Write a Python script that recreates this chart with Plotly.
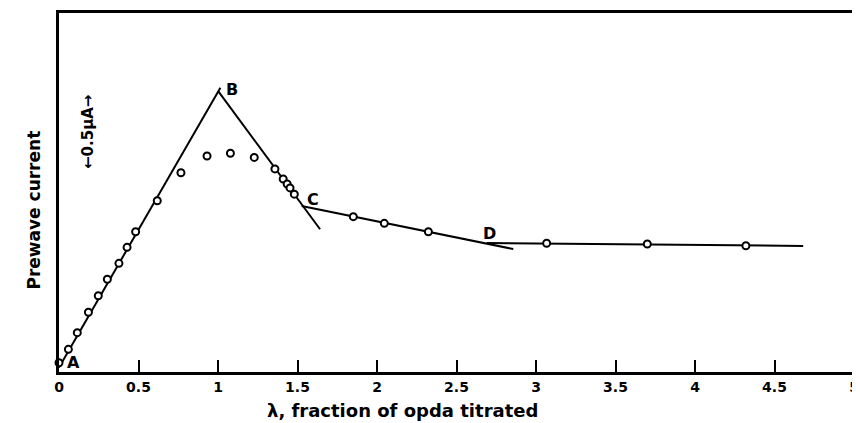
import plotly.graph_objects as go

# Measured points (x: fraction of opda titrated, y: prewave current in µA)
pts_x = [0.00, 0.059, 0.115, 0.185, 0.247, 0.304, 0.377, 0.428, 0.482, 0.618,
         0.767, 0.931, 1.078, 1.228, 1.358, 1.410, 1.435, 1.453, 1.480,
         1.851, 2.046, 2.323, 3.067, 3.70, 4.32]
pts_y = [0.061, 0.149, 0.259, 0.393, 0.502, 0.610, 0.715, 0.820, 0.923, 1.127,
         1.311, 1.421, 1.439, 1.412, 1.336, 1.270, 1.237, 1.211, 1.170,
         1.022, 0.978, 0.923, 0.847, 0.842, 0.831]

# Straight-line segments drawn on the chart
ab_x = [0.0, 1.015]
ab_y = [0.03, 1.87]
bc_x = [1.0, 1.642]
bc_y = [1.85, 0.939]
cd_x = [1.526, 2.857]
cd_y = [1.092, 0.809]
de_x = [2.69, 4.68]
de_y = [0.849, 0.829]

# Point labels
lab_text = ["A", "B", "C", "D"]
lab_x = [0.09, 1.09, 1.595, 2.71]
lab_y = [0.06, 1.86, 1.135, 0.91]

tick_vals = [0, 0.5, 1, 1.5, 2, 2.5, 3, 3.5, 4, 4.5, 5]
tick_text = ["0", "0.5", "1", "1.5", "2", "2.5", "3", "3.5", "4", "4.5", "5"]

FONT = "DejaVu Sans"
TICKFONT = dict(family=FONT, size=14, color="black", weight="bold")
fig = go.Figure()

for xs, ys in [(ab_x, ab_y), (bc_x, bc_y), (cd_x, cd_y), (de_x, de_y)]:
    fig.add_trace(go.Scatter(x=xs, y=ys, mode="lines",
                             line=dict(color="black", width=2),
                             hoverinfo="skip", showlegend=False, cliponaxis=False))

fig.add_trace(go.Scatter(x=pts_x, y=pts_y, mode="markers",
                         marker=dict(symbol="circle", size=7, color="white",
                                     line=dict(color="black", width=2)),
                         showlegend=False, cliponaxis=False))

for t, x, y in zip(lab_text, lab_x, lab_y):
    fig.add_annotation(x=x, y=y, text=t, showarrow=False,
                       font=dict(family=FONT, size=16, color="black", weight="bold"))

# scale bar
fig.add_annotation(x=0.182, y=1.579, text="←0.5µA→", textangle=-90, showarrow=False,
                   font=dict(family=FONT, size=15, color="black", weight="bold"))

# axis titles
fig.add_annotation(xref="paper", yref="paper", x=-0.046, y=0.451,
                   text="Prewave current", textangle=-90, showarrow=False,
                   font=dict(family=FONT, size=17, color="black", weight="bold"))
fig.add_annotation(xref="paper", yref="paper", x=0.432, y=-0.108, yanchor="middle",
                   text="λ, fraction of opda titrated", showarrow=False,
                   font=dict(family=FONT, size=18, color="black", weight="bold"))

# The page body adds an 8px offset, so the figure is 8px smaller than the window.
fig.update_layout(
    width=852, height=415,
    margin=dict(l=51, r=6, t=5, b=51, autoexpand=False),
    paper_bgcolor="white", plot_bgcolor="white",
    showlegend=False,
    font=dict(family=FONT, size=14, color="black"),
)
fig.update_xaxes(range=[0, 5], tickvals=tick_vals, ticktext=tick_text,
                 ticks="inside", ticklen=12, tickwidth=1.5, tickcolor="black",
                 showline=True, linewidth=2.5, linecolor="black", mirror=True,
                 showgrid=False, zeroline=False, automargin=False,
                 tickfont=TICKFONT)
fig.update_yaxes(range=[0, 2.362], showticklabels=False, ticks="",
                 showline=True, linewidth=2.5, linecolor="black", mirror=True,
                 showgrid=False, zeroline=False, automargin=False)

fig.write_html("out.html")
